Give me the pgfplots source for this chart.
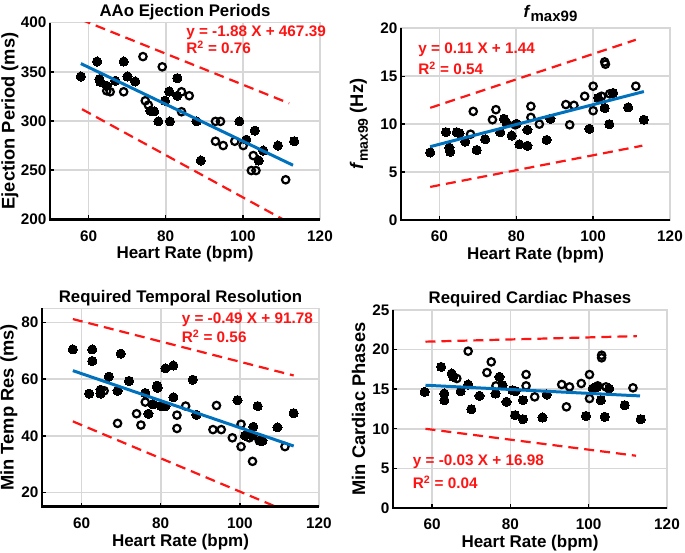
\documentclass[border=0pt]{standalone}
\usepackage{pgfplots}
\pgfplotsset{compat=1.18}
\usepackage{fontspec}
\setmainfont{Liberation Sans}
\definecolor{mblue}{RGB}{0,114,189}
\definecolor{mred}{RGB}{255,20,20}
\definecolor{gridg}{RGB}{215,215,215}
\tikzset{eqn/.style={anchor=base west, text=mred, font=\fontsize{15.3}{16}\selectfont\bfseries, inner sep=0pt}}
\pgfplotsset{
  panel/.style={
    scale only axis, anchor=south west,
    xmin=50, xmax=120, xtick={60,80,100,120},
    grid=major, major grid style={draw=gridg, line width=1.6pt},
    axis line style={draw=gridg, line width=1.6pt},
    xtick pos=bottom, ytick pos=left,
    tick style={black, line width=1.4pt}, major tick length=4pt,
    /pgf/number format/assume math mode=true,
    ticklabel style={font=\fontsize{15.3}{16}\selectfont\bfseries},
    xticklabel style={anchor=base, yshift=-22pt},
    xlabel style={font=\fontsize{17}{18}\selectfont\bfseries, at={(axis description cs:0.5,0)}, anchor=base, yshift=-39.5pt, inner sep=0pt},
    ylabel style={font=\fontsize{18.3}{19}\selectfont\bfseries},
    title style={font=\fontsize{16.8}{17}\selectfont\bfseries, at={(axis description cs:0.5,1)}, anchor=base, inner sep=0pt},
    xlabel={Heart Rate (bpm)},
    clip mode=individual,
    after end axis/.code={\draw[black, line width=2.6pt] (rel axis cs:0,1) -- (rel axis cs:0,0) -- (rel axis cs:1,0);},
  },
  fillm/.style={only marks, mark=*, mark size=4.6pt, mark options={fill=black, draw=black, line width=0pt}},
  openm/.style={only marks, mark=o, mark size=3.7pt, mark options={draw=black, line width=2.2pt}},
  regl/.style={no marks, color=mblue, line width=3pt},
  band/.style={no marks, color=mred, line width=2.2pt, dash pattern=on 10pt off 6pt},
}
\begin{document}
\begin{tikzpicture}
\path[use as bounding box] (0pt,0pt) rectangle (685pt,553pt);
% Panel 1
\begin{axis}[panel, at={(50pt,333.7pt)}, width=270pt, height=196.6pt,
  ymin=200, ymax=400, ytick={200,250,300,350,400},
  ylabel style={at={(axis description cs:-0.131,0.5)}, anchor=base, inner sep=0pt},
  ylabel={Ejection Period (ms)}, title={AAo Ejection Periods}]
\addplot[fillm] coordinates {(58.0,345.3)(62.2,360.5)(62.8,342.6)(63.0,339.9)(64.7,335.8)(66.9,340.9)(69.1,360.5)(70.1,345.3)(72.1,340.2)(76.0,310.5)(77.0,309.8)(78.1,299.6)(79.8,320.6)(80.9,330.1)(81.1,299.6)(83.0,343.6)(83.0,325.7)(88.0,299.6)(89.1,259.8)(99.1,299.6)(100.9,281.0)(103.1,290.2)(104.1,259.8)(105.3,269.9)(109.1,275.0)(113.3,279.4)};
\addplot[openm] coordinates {(64.7,330.7)(65.6,329.7)(69.1,329.7)(74.1,365.5)(74.7,320.6)(75.5,316.2)(79.1,355.1)(84.1,329.7)(84.1,309.4)(86.1,325.7)(92.9,299.6)(94.2,299.6)(92.9,279.4)(94.9,275.0)(97.9,279.4)(100.1,275.0)(102.7,264.8)(102.2,249.6)(103.4,249.6)(111.1,240.2)};
\addplot[band] coordinates {(58,403.2)(112,318)};
\addplot[band] coordinates {(58.3,312)(112,196.5)};
\addplot[regl] coordinates {(58,358.4)(113,255.0)};
\node[eqn] at (rel axis cs:0.504,0.929) {y = -1.88 X + 467.39};
\node[eqn] at (rel axis cs:0.504,0.844) {R\textsuperscript{2} = 0.76};
\end{axis}
% Panel 2
\begin{axis}[panel, at={(401pt,333pt)}, width=269pt, height=191.7pt,
  ymin=0, ymax=20, ytick={0,5,10,15,20},
  ylabel style={at={(axis description cs:-0.141,0.5)}, anchor=base, inner sep=0pt},
  title style={yshift=5pt, xshift=15pt},
  ylabel={\textit{f}\raisebox{-0.5ex}{\fontsize{14}{14}\selectfont max99} (Hz)}, title={\textit{f}\raisebox{-0.5ex}{\fontsize{15}{15}\selectfont max99}}]
\addplot[fillm] coordinates {(57.6,7.05)(61.7,9.16)(62.6,7.54)(62.8,7.12)(64.5,9.16)(65.2,9.05)(66.7,8.18)(69.7,7.30)(71.9,8.42)(75.8,9.16)(76.8,10.56)(77.5,10.1)(78.8,8.81)(80.1,10.04)(80.8,7.89)(82.9,7.75)(82.9,9.40)(87.9,8.35)(88.9,10.56)(99.0,9.51)(101.3,12.74)(103.0,11.68)(104.2,10.0)(105.2,13.26)(109.1,11.75)(113.2,10.46)};
\addplot[openm] coordinates {(68.8,11.33)(68.1,8.95)(74.7,11.51)(73.8,10.46)(83.8,11.86)(83.8,10.70)(86.0,10.0)(92.9,12.04)(95.0,11.96)(93.9,9.93)(97.8,12.91)(100.0,13.96)(100.0,11.40)(103.0,16.49)(103.2,16.25)(102.2,12.91)(104.3,13.16)(111.1,13.96)(79.7,9.93)};
\addplot[band] coordinates {(57.6,11.7)(111.1,18.8)};
\addplot[band] coordinates {(57.6,3.45)(112.8,7.75)};
\addplot[regl] coordinates {(57.6,7.65)(113.2,13.4)};
\node[eqn] at (rel axis cs:0.064,0.870) {y = 0.11 X + 1.44};
\node[eqn] at (rel axis cs:0.064,0.760) {R\textsuperscript{2} = 0.54};
\end{axis}
% Panel 3
\begin{axis}[panel, at={(42pt,46.3pt)}, width=277pt, height=198.4pt,
  ymin=15, ymax=85, ytick={20,40,60,80},
  ylabel style={at={(axis description cs:-0.102,0.5)}, anchor=base, inner sep=0pt},
  ylabel={Min Temp Res (ms)}, title={Required Temporal Resolution}]
\addplot[fillm] coordinates {(57.8,70.5)(62.7,70.5)(62.7,66.4)(69.9,69.0)(66.9,60.9)(61.9,54.9)(64.8,56.3)(64.8,54.9)(69.1,55.9)(72.0,59.4)(76.1,55.1)(76.9,47.8)(78.0,51.1)(79.1,57.7)(79.2,56.9)(80.1,50.5)(81.2,50.5)(81.2,63.8)(83.2,64.8)(83.2,53.6)(88.1,59.8)(89.0,47.4)(99.4,52.6)(101.3,40.1)(103.2,40.1)(103.4,43.2)(104.5,50.5)(105.1,38.3)(105.7,38.3)(109.5,43.0)(113.6,48.0)};
\addplot[openm] coordinates {(65.7,55.9)(69.1,44.4)(73.9,47.8)(75.0,43.8)(76.1,51.9)(84.1,47.3)(84.1,42.6)(86.3,50.5)(94.1,50.7)(93.2,42.2)(95.3,42.2)(98.1,39.3)(100.3,44.1)(100.3,36.2)(103.2,31.0)(102.4,39.3)(104.9,38.3)(111.4,36.2)};
\addplot[band] coordinates {(57.8,81.2)(113.6,61.3)};
\addplot[band] coordinates {(57.8,45.1)(112,13.3)};
\addplot[regl] coordinates {(57.8,63.0)(113.6,36.4)};
\node[eqn] at (rel axis cs:0.504,0.924) {y = -0.49 X + 91.78};
\node[eqn] at (rel axis cs:0.504,0.829) {R\textsuperscript{2} = 0.56};
\end{axis}
% Panel 4
\begin{axis}[panel, at={(393pt,45pt)}, width=274pt, height=198pt,
  ymin=0, ymax=25, ytick={0,5,10,15,20,25},
  ylabel style={at={(axis description cs:-0.102,0.5)}, anchor=base, inner sep=0pt},
  ylabel={Min Cardiac Phases}, title={Required Cardiac Phases}]
\addplot[fillm] coordinates {(58.1,14.66)(62.3,17.82)(63.1,14.45)(63.1,13.61)(65.0,16.98)(65.4,16.56)(67.3,14.75)(69.2,15.59)(70.0,12.47)(72.1,14.16)(76.2,14.45)(77.2,16.56)(78.0,15.51)(79.0,13.40)(80.5,14.87)(81.3,14.75)(81.2,11.72)(83.2,13.61)(83.2,11.21)(88.2,11.42)(89.3,14.33)(99.3,11.63)(101.0,15.08)(102.1,15.29)(103.1,13.61)(104.1,11.51)(105.2,15.08)(109.2,12.98)(113.3,11.21)};
\addplot[openm] coordinates {(66.3,16.35)(69.2,19.80)(74.0,17.10)(75.1,18.45)(76.3,15.42)(84.0,16.85)(84.0,15.42)(86.2,14.03)(93.1,15.59)(95.1,15.29)(94.3,12.77)(98.1,15.72)(100.2,16.85)(100.2,13.82)(103.3,19.29)(103.3,18.96)(104.4,15.29)(111.3,15.17)(102.3,15.42)};
\addplot[band] coordinates {(58.3,21.0)(112.3,21.7)};
\addplot[band] coordinates {(58.3,10.0)(112.1,6.6)};
\addplot[regl] coordinates {(58.3,15.5)(113.1,14.15)};
\node[eqn] at (rel axis cs:0.072,0.217) {y = -0.03 X + 16.98};
\node[eqn] at (rel axis cs:0.072,0.096) {R\textsuperscript{2} = 0.04};
\end{axis}
\end{tikzpicture}
\end{document}
